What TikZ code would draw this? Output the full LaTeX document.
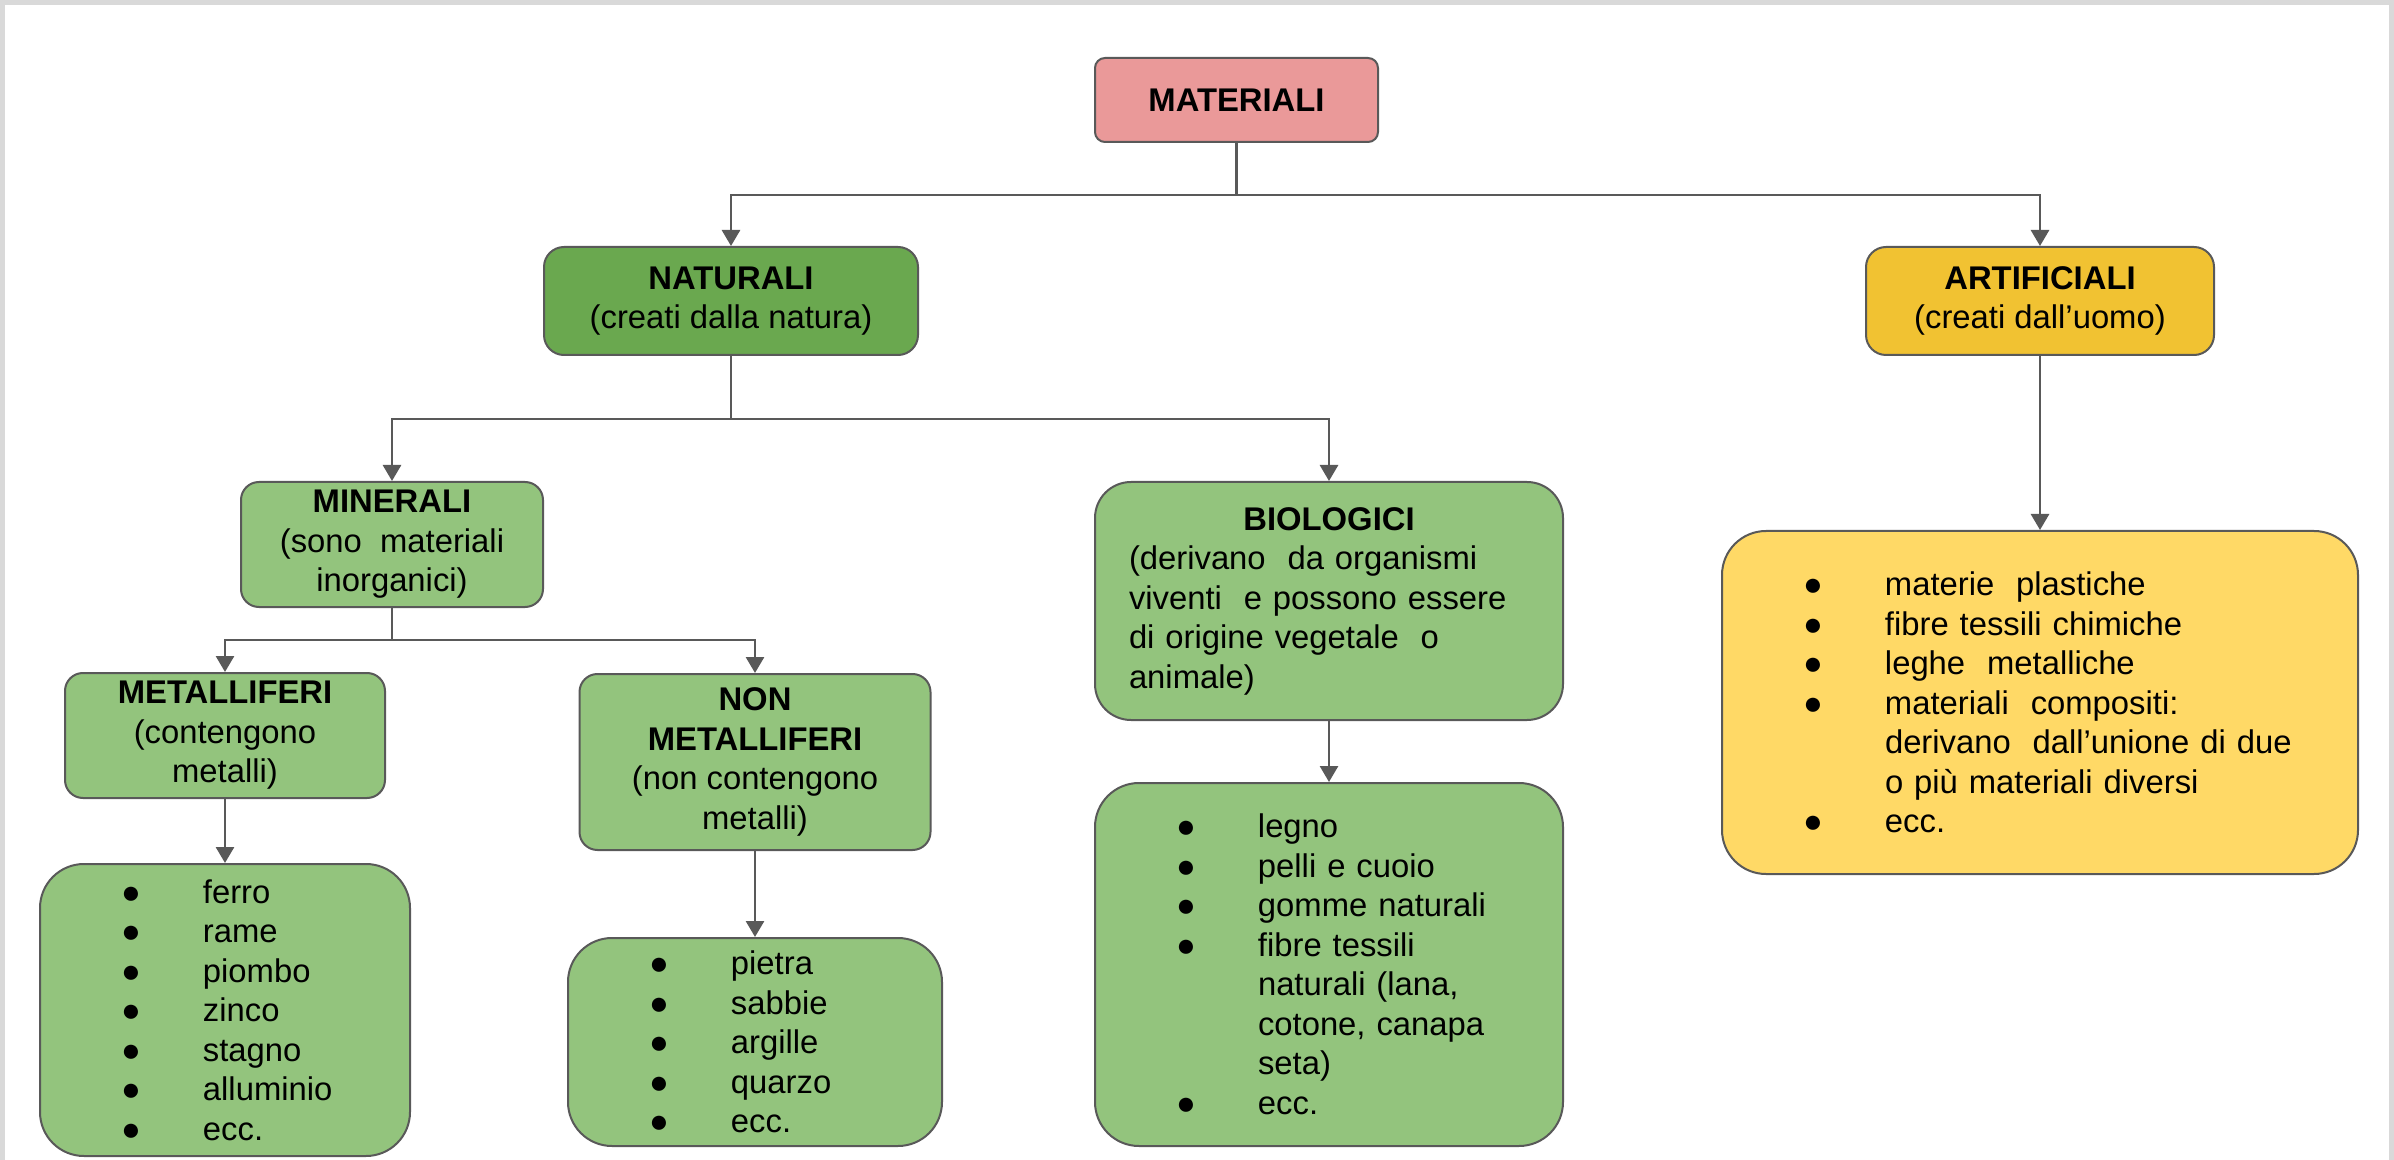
\documentclass[tikz,border=0pt]{standalone}
\usepackage{fontspec}
\setmainfont{Liberation Sans}
\usetikzlibrary{arrows.meta}
\definecolor{cornice}{HTML}{D9D9D9}
\definecolor{rosa}{HTML}{EA9999}
\definecolor{verdescuro}{HTML}{6AA84F}
\definecolor{verde}{HTML}{93C47D}
\definecolor{giallo}{HTML}{F1C232}
\definecolor{giallino}{HTML}{FFD966}
\definecolor{linea}{HTML}{595959}
\newcommand*{\voce}[1]{\hspace*{40.5pt}\makebox[41pt][l]{●}#1}
\newcommand*{\segue}[1]{\hspace*{81.5pt}#1}

\begin{document}
\begin{tikzpicture}[x=0.5pt, y=-0.5pt,
    box/.style={draw=linea, line width=1pt, rounded corners=9pt, align=center,
        inner sep=0pt, font=\fontsize{16.4}{19.75}\selectfont},
    lista/.style={box, rounded corners=22pt, align=left, text width=#1},
    freccia/.style={draw=linea, line width=1.4pt, -{Triangle[width=9pt,length=8pt]}}]
    \fill[cornice] (0,0) rectangle (2394,1160);
    \fill[white] (5,5) rectangle (2389,1160);

    \node[box, fill=rosa, rounded corners=5pt, minimum width=141.5pt, minimum height=42pt]
        (mat) at (1236.5,100) {\bfseries MATERIALI};
    \node[box, fill=verdescuro, rounded corners=10pt, minimum width=187pt, minimum height=54pt]
        (nat) at (731,301) {\bfseries NATURALI\\(creati dalla natura)};
    \node[box, fill=giallo, rounded corners=10pt, minimum width=174pt, minimum height=54pt]
        (art) at (2040,301) {\bfseries ARTIFICIALI\\(creati dall’uomo)};
    \node[box, fill=verde, minimum width=151pt, minimum height=62.5pt]
        (min) at (392,544.5) {\bfseries MINERALI\\(sono\ \ materiali\\inorganici)};
    \node[box, fill=verde, rounded corners=18pt, align=left, text width=200pt, inner xsep=17pt,
        minimum height=119pt] (bio) at (1329,601)
        {\makebox[200pt]{\bfseries BIOLOGICI}\\(derivano\ \ da organismi\\viventi\ \ e possono essere\\di origine vegetale\ \ o\\animale)};
    \node[box, fill=verde, minimum width=160pt, minimum height=62.5pt]
        (met) at (225,735.5) {\bfseries METALLIFERI\\(contengono\\metalli)};
    \node[box, fill=verde, minimum width=175.5pt, minimum height=88pt]
        (non) at (755,762) {\bfseries NON\\\bfseries METALLIFERI\\(non contengono\\metalli)};

    \node[lista=185pt, fill=verde, minimum height=146pt] (metlist) at (225,1010)
        {\voce{ferro}\\\voce{rame}\\\voce{piombo}\\\voce{zinco}\\\voce{stagno}\\\voce{alluminio}\\\voce{ecc.}};
    \node[lista=187pt, fill=verde, minimum height=104pt] (nonlist) at (755,1042)
        {\voce{pietra}\\\voce{sabbie}\\\voce{argille}\\\voce{quarzo}\\\voce{ecc.}};
    \node[lista=234pt, fill=verde, minimum height=181.5pt] (biolist) at (1329,964.5)
        {\voce{legno}\\\voce{pelli e cuoio}\\\voce{gomme naturali}\\\voce{fibre tessili}\\\segue{naturali (lana,}\\\segue{cotone, canapa}\\\segue{seta)}\\\voce{ecc.}};
    \node[lista=318pt, fill=giallino, minimum height=171.5pt] (artlist) at (2040,702.5)
        {\voce{materie\ \ plastiche}\\\voce{fibre tessili chimiche}\\\voce{leghe\ \ metalliche}\\\voce{materiali\ \ compositi:}\\\segue{derivano\ \ dall’unione di due}\\\segue{o più materiali diversi}\\\voce{ecc.}};

    \draw[freccia] (mat.south) -- ++(0,52) -| (nat.north);
    \draw[freccia] (mat.south) -- ++(0,52) -| (art.north);
    \draw[freccia] (nat.south) -- ++(0,63) -| (min.north);
    \draw[freccia] (nat.south) -- ++(0,63) -| (bio.north);
    \draw[freccia] (min.south) -- ++(0,32) -| (met.north);
    \draw[freccia] (min.south) -- ++(0,32) -| (non.north);
    \draw[freccia] (met.south) -- (metlist.north);
    \draw[freccia] (non.south) -- (nonlist.north);
    \draw[freccia] (bio.south) -- (biolist.north);
    \draw[freccia] (art.south) -- (artlist.north);
\end{tikzpicture}
\end{document}
